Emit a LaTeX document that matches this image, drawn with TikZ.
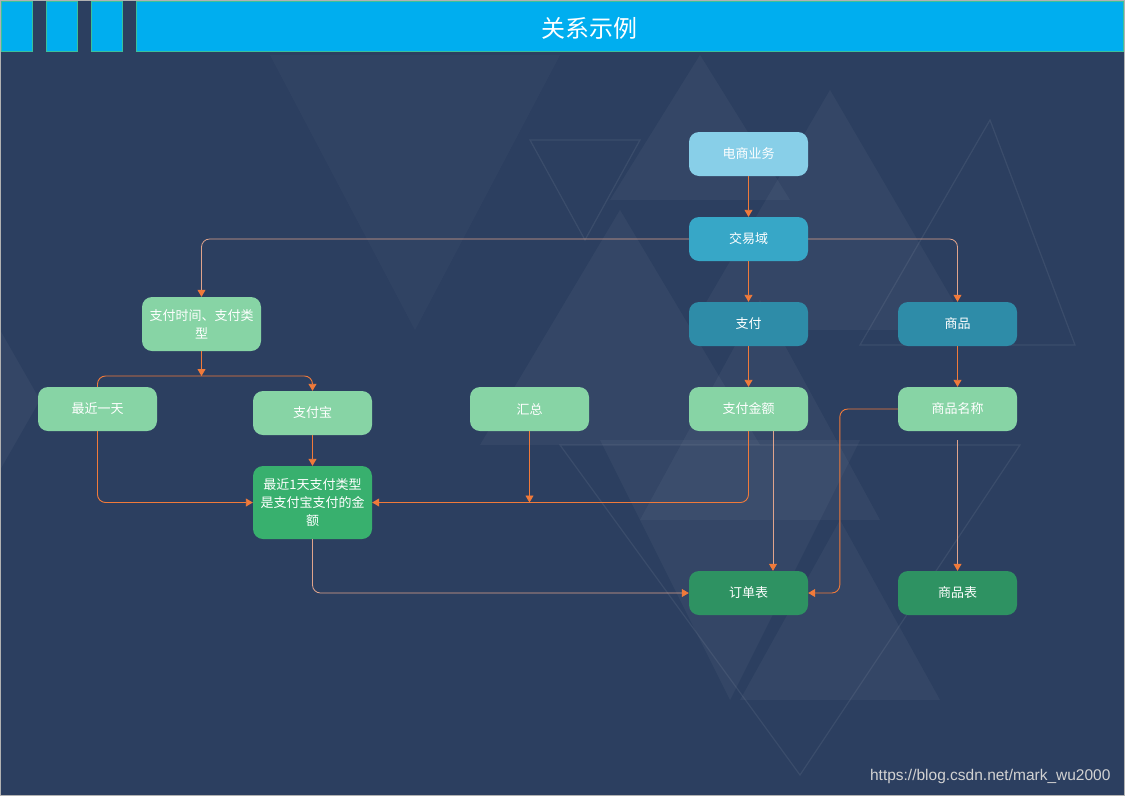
\documentclass[tikz,border=0pt]{standalone}
\usepackage{fontspec}
\newfontfamily\cjk{Noto Sans CJK SC}
\setsansfont{Liberation Sans}
\usetikzlibrary{arrows.meta}

\definecolor{bgc}{HTML}{2C3F60}
\definecolor{headc}{HTML}{00AEEF}
\definecolor{headline}{HTML}{3CC09A}
\definecolor{linkc}{HTML}{F07A3A}
\definecolor{linkp}{HTML}{E0A48C}
\definecolor{skyc}{HTML}{88CFE8}
\definecolor{tealc}{HTML}{37A7C7}
\definecolor{deepc}{HTML}{2E8CA8}
\definecolor{mintc}{HTML}{87D4A5}
\definecolor{greenc}{HTML}{38B06E}
\definecolor{darkg}{HTML}{2E9262}

\begin{document}
\begin{tikzpicture}[x=1pt, y=-1pt,
    box/.style={rounded corners=10pt, minimum width=119pt, minimum height=44pt,
      inner sep=2pt, align=center, text=white, font=\cjk\fontsize{13}{18}\selectfont},
    link/.style={-{Triangle[width=8pt,length=7pt]}, draw=linkc, line width=0.9pt, rounded corners=8pt},
    pale/.style={-{Triangle[width=8pt,length=7pt,color=linkc]}, draw=linkp, line width=0.8pt, rounded corners=8pt},
    tri/.style={fill=white, fill opacity=0.04},
    triline/.style={draw=white, draw opacity=0.07, line width=1.2pt}]
    \useasboundingbox (0,0) rectangle (1125,796);
    \fill[bgc] (0,0) rectangle (1125,796);

    % 背景の三角形
    \fill[tri] (610,200) -- (700,55) -- (790,200) -- cycle;
    \fill[tri] (690,330) -- (830,90) -- (970,330) -- cycle;
    \fill[tri] (480,445) -- (620,210) -- (760,445) -- cycle;
    \fill[tri] (640,520) -- (760,300) -- (880,520) -- cycle;
    \fill[tri, fill opacity=0.025] (270,55) -- (560,55) -- (415,330) -- cycle;
    \fill[tri] (0,330) -- (40,400) -- (0,470) -- cycle;
    \fill[tri] (740,700) -- (840,520) -- (940,700) -- cycle;
    \fill[tri] (600,440) -- (860,440) -- (730,700) -- cycle;
    \draw[triline] (560,445) -- (1020,445) -- (800,775) -- cycle;
    \draw[triline] (860,345) -- (990,120) -- (1075,345) -- cycle;
    \draw[triline] (530,140) -- (640,140) -- (585,240) -- cycle;

    % ヘッダー
    \foreach \a/\b in {1/32, 46/77, 91/122, 136/1123}
      \filldraw[fill=headc, draw=headline, line width=0.8pt] (\a,1) rectangle (\b,51);
    \node[text=white, font=\cjk\fontsize{24}{24}\selectfont] (title) at (589,28) {关系示例};
    \draw[gray!60, line width=0.6pt] (0.3,0.3) rectangle (1124.7,795.7);

    % 上段
    \node[box, fill=skyc] (dianshang) at (748.5,154) {电商业务};
    \node[box, fill=tealc] (jiaoyi) at (748.5,239) {交易域};
    \node[box, fill=deepc] (zhifu) at (748.5,324) {支付};
    \node[box, fill=deepc] (shangpin) at (957.5,324) {商品};
    \node[box, fill=mintc, minimum height=54pt] (zftime) at (201.5,324) {支付时间、支付类\\型};

    % 中段
    \node[box, fill=mintc] (zuijin) at (97.5,409) {最近一天};
    \node[box, fill=mintc] (zfb) at (312.5,413) {支付宝};
    \node[box, fill=mintc] (huizong) at (529.5,409) {汇总};
    \node[box, fill=mintc] (zfje) at (748.5,409) {支付金额};
    \node[box, fill=mintc] (spmc) at (957.5,409) {商品名称};
    \node[box, fill=greenc, minimum height=73pt] (result) at (312.5,502.5) {最近1天支付类型\\是支付宝支付的金\\额};

    % 下段
    \node[box, fill=darkg] (dingdan) at (748.5,593) {订单表};
    \node[box, fill=darkg] (spb) at (957.5,593) {商品表};

    % 接続線
    \coordinate (fork) at (201.5,376);
    \coordinate (hzend) at (529.5,502.5);
    \draw[link] (dianshang) -- (jiaoyi);
    \draw[link] (jiaoyi) -- (zhifu);
    \draw[pale] (jiaoyi.east) -| (shangpin.north);
    \draw[pale] (jiaoyi.west) -| (zftime.north);
    \draw[link] (zhifu) -- (zfje);
    \draw[link] (shangpin) -- (spmc);
    \draw[link] (zftime) -- (fork);
    \draw[link] (zuijin.north) |- (fork) -| (zfb.north);
    \draw[link] (zfb) -- (result);
    \draw[link] (zuijin.south) |- (result.west);
    \draw[link] (huizong) -- (hzend);
    \draw[link] (zfje.south) |- (result.east);
    \draw[pale] ([xshift=24.5pt]zfje.south) -- ([xshift=24.5pt]dingdan.north);
    \draw[link] (spmc.west) -- ++(-58,0) |- (dingdan.east);
    \draw[pale] ([yshift=-9pt]spmc.south) -- (spb);
    \draw[pale] (result.south) |- (dingdan.west);

    % 透かし
    \node[anchor=east, text=gray!35, font=\sffamily\fontsize{15.5}{16}\selectfont] (mark) at (1114,776) {https://blog.csdn.net/mark\_wu2000};
  \end{tikzpicture}
\end{document}
